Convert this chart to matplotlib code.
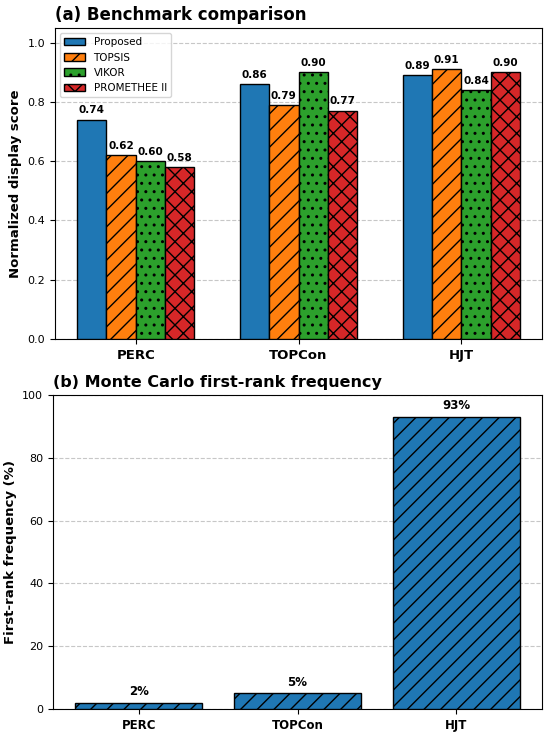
import matplotlib
matplotlib.use("Agg")
import matplotlib.pyplot as plt
import numpy as np

categories = ["PERC", "TOPCon", "HJT"]
methods = ["Proposed", "TOPSIS", "VIKOR", "PROMETHEE II"]
proposed = [0.74, 0.86, 0.89]
topsis = [0.62, 0.79, 0.91]
vikor = [0.60, 0.90, 0.84]
promethee = [0.58, 0.77, 0.90]
first_rank = [2, 5, 93]

series = [proposed, topsis, vikor, promethee]
colors = ["#1f77b4", "#ff7f0e", "#2ca02c", "#d62728"]
hatches = ["", "//", "..", "xx"]

plt.rcParams['hatch.linewidth'] = 1.0
fig = plt.figure(figsize=(5.5, 7.35), dpi=100)
ax1 = fig.add_axes([0.1, 0.5388, 0.8855, 0.4232])
ax2 = fig.add_axes([0.0964, 0.0354, 0.8891, 0.4272])

x = np.arange(len(categories))
w = 0.18
for i, (vals, c, h, m) in enumerate(zip(series, colors, hatches, methods)):
    bars = ax1.bar(x + (i - 1.5) * w, vals, w, color=c, hatch=h,
                   edgecolor="black", linewidth=1.0, label=m, zorder=3)
    for b, v in zip(bars, vals):
        ax1.text(b.get_x() + b.get_width() / 2, v + 0.015, f"{v:.2f}",
                 ha="center", va="bottom", fontsize=7.5, fontweight="bold")
ax1.set_ylim(0, 1.05)
ax1.set_xticks(x)
ax1.set_xticklabels(categories, fontsize=9.5, fontweight="bold")
ax1.set_ylabel("Normalized display score", fontsize=9.5, fontweight="bold")
ax1.set_title("(a) Benchmark comparison", fontsize=12, fontweight="bold", loc="left")
ax1.yaxis.grid(True, linestyle="--", alpha=0.7, zorder=0)
ax1.set_axisbelow(True)
ax1.legend(loc="upper left", fontsize=7.5)
ax1.tick_params(axis="y", labelsize=8)

bars = ax2.bar(x, first_rank, 0.8, color="#1f77b4", hatch="//",
               edgecolor="black", linewidth=1.0, zorder=3)
for b, v in zip(bars, first_rank):
    ax2.text(b.get_x() + b.get_width() / 2, v + 1.5, f"{v}%",
             ha="center", va="bottom", fontsize=8.5, fontweight="bold")
ax2.set_ylim(0, 100)
ax2.set_xticks(x)
ax2.set_xticklabels(categories, fontsize=8.5, fontweight="bold")
ax2.set_ylabel("First-rank frequency (%)", fontsize=9.5, fontweight="bold")
ax2.set_title("(b) Monte Carlo first-rank frequency", fontsize=11.5, fontweight="bold", loc="left")
ax2.yaxis.grid(True, linestyle="--", alpha=0.7, zorder=0)
ax2.set_axisbelow(True)
ax2.tick_params(axis="y", labelsize=8)

fig.savefig("out.png", dpi=100)
